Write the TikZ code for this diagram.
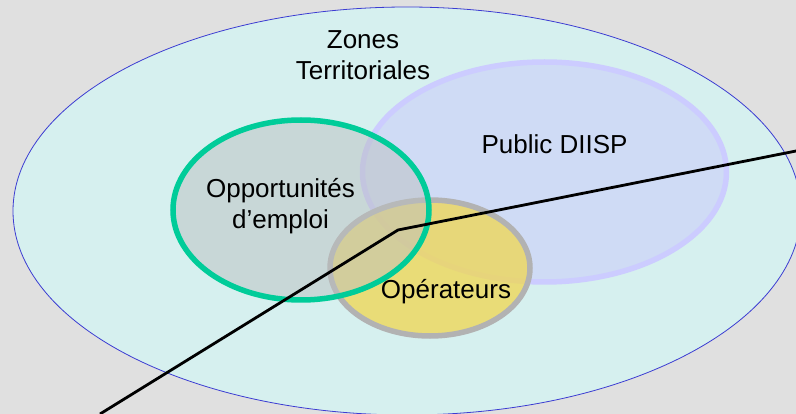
\documentclass[tikz,border=0pt]{standalone}
\usepackage{fontspec}
\setmainfont{Liberation Sans}
\definecolor{bggray}{RGB}{224,224,224}
\definecolor{zonefill}{RGB}{214,240,239}
\definecolor{zoneline}{RGB}{60,60,210}
\definecolor{publicfill}{RGB}{202,200,251}
\definecolor{publicline}{RGB}{204,204,255}
\definecolor{operfill}{RGB}{238,215,90}
\definecolor{operline}{RGB}{178,178,178}
\definecolor{opportfill}{RGB}{188,192,193}
\definecolor{opportline}{RGB}{0,204,153}

\begin{document}
\begin{tikzpicture}[x=1pt, y=-1pt,
    label/.style={font=\fontsize{26}{31}\selectfont, align=center, anchor=base, inner sep=0pt},
    ring/.style={line width=5.5pt}]
  \useasboundingbox (0,0) rectangle (796,414);
  \fill[bggray] (0,0) rectangle (796,414);
  % sets
  \draw[fill=zonefill, draw=zoneline, line width=0.8pt] (407,211) ellipse [x radius=394, y radius=204];
  \draw[ring, draw=publicline, fill=publicfill, fill opacity=0.5] (544.5,172) ellipse [x radius=182, y radius=110];
  \draw[ring, draw=operline, fill=operfill, fill opacity=0.8] (430,268) ellipse [x radius=100, y radius=68];
  \draw[ring, draw=opportline, fill=opportfill, fill opacity=0.5] (301,210) ellipse [x radius=128, y radius=90];
  % labels (base = last line)
  \node[label] (zones) at (363,80) {Zones\\Territoriales};
  \node[label] (public) at (554.5,154) {Public DIISP};
  \node[label] (opport) at (280.5,229) {Opportunités\\d’emploi};
  \node[label] (oper) at (446,299) {Opérateurs};
  % pointer
  \coordinate (lo) at (100,414);
  \coordinate (pivot) at (398,230);
  \coordinate (hi) at (796,151);
  \draw[line width=2.8pt] (lo) -- (pivot) -- (hi);
\end{tikzpicture}
\end{document}
